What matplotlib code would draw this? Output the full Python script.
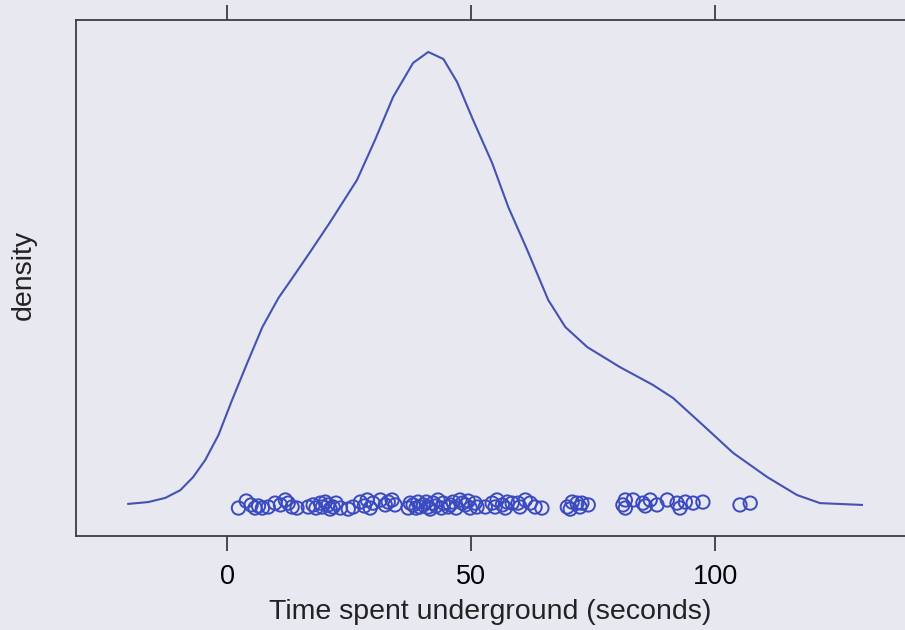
import numpy as np
import matplotlib.pyplot as plt

plt.rcParams['font.family'] = ['Liberation Sans', 'DejaVu Sans']

BG = '#e8e8f1'
LINE_COLOR = '#4452b2'
DOT_COLOR = '#3a4ac0'
FRAME = '#3c3c44'

# density curve
dens_x = [-20.3, -16.2, -12.7, -9.6, -7.0, -4.5, -1.8, 1.0, 4.1, 7.2, 10.5,
          13.5, 17.0, 21.1, 26.6, 30.3, 34.0, 38.1, 41.2, 44.3, 47.1, 50.4,
          54.3, 57.6, 61.5, 65.8, 69.3, 73.8, 80.5, 87.3, 91.4, 97.5, 103.7,
          110.7, 116.8, 121.5, 130.1]
dens_y = [0.00012, 0.00019, 0.00035, 0.00065, 0.00115, 0.00181, 0.00277,
          0.00412, 0.00554, 0.00692, 0.00804, 0.00885, 0.00981, 0.01096,
          0.01258, 0.01412, 0.01577, 0.01708, 0.01750, 0.01723, 0.01635,
          0.01488, 0.01323, 0.01154, 0.00988, 0.00796, 0.00692, 0.00615,
          0.00538, 0.00469, 0.00419, 0.00315, 0.00208, 0.00115, 0.00046,
          0.00015, 0.00008]

# observed times (jittered strip along the bottom)
times = [2.3, 3.9, 4.9, 5.7, 6.4, 7.2, 8.4, 9.8, 10.9, 11.9, 12.5, 13.3, 14.3,
         16.6, 17.6, 19.1, 20.1, 20.7, 21.7, 23.2, 24.8, 18.2, 19.5, 21.1, 22.3,
         25.8, 27.3, 28.7, 29.9, 31.4, 32.4, 33.8, 34.4, 37.1, 38.1, 39.1, 40.2,
         41.2, 42.2, 43.2, 44.3, 45.3, 46.3, 47.7, 48.8, 49.8, 50.8, 28.1, 29.3,
         33.0, 37.5, 38.7, 39.5, 40.8, 41.6, 42.8, 43.9, 45.7, 46.9, 48.2, 49.4,
         51.2, 52.9, 54.3, 55.3, 56.4, 57.4, 58.4, 59.6, 61.1, 62.1, 63.1, 64.5,
         69.7, 70.7, 71.7, 72.7, 74.0, 54.9, 57.0, 60.0, 70.3, 72.3,
         81.1, 81.6, 83.2, 85.2, 86.7, 88.1, 90.2, 92.2, 92.8, 93.9, 95.5, 97.5,
         105.1, 107.2, 81.6, 85.7]
jit = [-0.00004, 0.00023, 0.00008, -0.00004, 0.00004, -0.00004, 0.0, 0.00015,
       0.00008, 0.00027, 0.00015, 0.0, -0.00004, 0.0, 0.00008, 0.00015, 0.00019,
       0.00008, 0.0, -0.00004, -0.00008, -0.00004, 0.0, -0.00008, 0.00015,
       0.0, 0.00019, 0.00027, 0.00015, 0.00027, 0.00008, 0.00027, 0.00008,
       -0.00004, 0.00008, 0.00019, 0.00008, 0.0, 0.00015, 0.00027, 0.00015,
       0.0, 0.00019, 0.00027, 0.00008, -0.00004, 0.00015, 0.00004, -0.00004,
       0.00019, 0.00015, -0.00004, 0.0, 0.00019, -0.00008, 0.00004, -0.00004,
       0.00008, -0.00004, 0.00015, 0.00023,
       0.0, 0.0, 0.00015, 0.00027, 0.00008, 0.00019, 0.00015, 0.00015, 0.00027,
       0.00015, 0.0, -0.00004, 0.0, 0.00019, 0.00015, 0.00015, 0.00008, 0.0,
       -0.00004, 0.0, -0.00008, 0.0,
       0.00008, 0.00027, 0.00027, 0.00015, 0.00027, 0.00008, 0.00027, 0.00015,
       -0.00004, 0.00019, 0.00015, 0.00019, 0.00008, 0.00015, -0.00004, 0.00004]

fig = plt.figure(figsize=(9.05, 6.3), dpi=100, facecolor=BG)
ax = fig.add_axes([0.084, 0.1492, 0.9757, 0.8191], facecolor=BG)

ax.plot(dens_x, dens_y, color=LINE_COLOR, lw=1.5)
ax.scatter(times, jit, s=92, facecolors='none', edgecolors=DOT_COLOR,
           linewidths=1.4, zorder=3)

ax.set_xlim(-31, 150)
ax.set_ylim(-0.001115, 0.018731)

for side in ['left', 'top', 'bottom', 'right']:
    ax.spines[side].set_color(FRAME)
    ax.spines[side].set_linewidth(1.3)

ax.set_xticks([0, 50, 100])
ax.set_yticks([])
ax.tick_params(axis='x', which='both', direction='out', length=10.5, width=1.3,
               color=FRAME, labelsize=19.5, pad=10, top=True, labeltop=False)

ax.set_xlabel("Time spent underground (seconds)", fontsize=20.5, color='#222222')
ax.set_ylabel("density", fontsize=20.5, color='#222222')
ax.xaxis.set_label_coords(0.469, -0.122)
ax.yaxis.set_label_coords(-0.044, 0.506)

fig.savefig('out.png', dpi=100, facecolor=BG)
